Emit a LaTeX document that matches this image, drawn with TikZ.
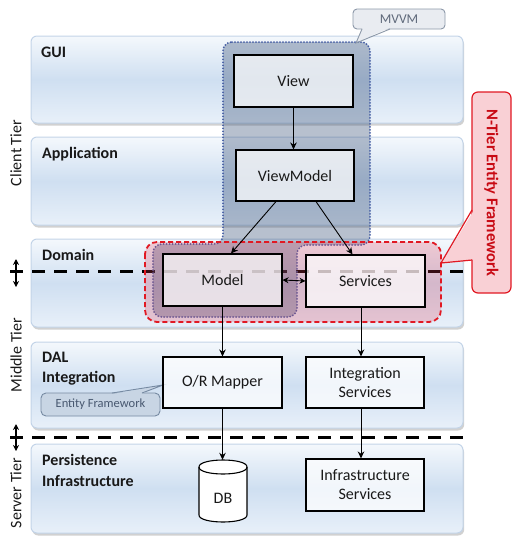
\documentclass[tikz,border=0pt]{standalone}
\usepackage{fontspec}
\setmainfont{Carlito}
\usetikzlibrary{arrows.meta,shadows,calc}
\definecolor{bandtop}{RGB}{244,248,252}
\definecolor{bandmid}{RGB}{207,223,241}
\definecolor{bandbot}{RGB}{232,240,249}
\definecolor{bandline}{RGB}{195,212,232}
\definecolor{mvvmfill}{RGB}{50,75,115}
\definecolor{mvvmline}{RGB}{70,95,165}
\definecolor{ntred}{RGB}{225,25,35}
\definecolor{ntfill}{RGB}{230,60,85}
\definecolor{ntcallfill}{RGB}{249,208,213}
\definecolor{nttext}{RGB}{200,10,20}
\definecolor{mvcallfill}{RGB}{233,236,241}
\definecolor{mvcallline}{RGB}{140,152,168}
\definecolor{mvtext}{RGB}{95,105,122}
\definecolor{efcallfill}{RGB}{200,213,228}
\definecolor{efcallline}{RGB}{118,138,162}
\definecolor{eftext}{RGB}{72,88,112}
\definecolor{txt}{RGB}{25,25,25}
\tikzset{
  band/.style={draw=bandline, line width=1pt, rounded corners=6pt,
    top color=bandtop, bottom color=bandbot, middle color=bandmid,
    drop shadow={shadow xshift=1.2pt, shadow yshift=-2.5pt, opacity=0.3, fill=black!60}},
  lbl/.style={font=\fontsize{16}{19}\selectfont\bfseries, anchor=base west, inner sep=0pt, text=txt},
  tier/.style={font=\fontsize{16}{19}\selectfont, rotate=90, inner sep=0pt, text=txt},
  box/.style={draw=black, line width=1.1pt, fill=white, fill opacity=0.72, text opacity=1,
    minimum width=119pt, minimum height=52pt, inner sep=2pt, align=center,
    font=\fontsize{16}{19}\selectfont, text=txt},
  arr/.style={-{Stealth[length=7pt,width=6.5pt]}, line width=0.9pt},
  darr/.style={{Stealth[length=6pt,width=6pt]}-{Stealth[length=6pt,width=6pt]}, line width=0.9pt},
  tierarr/.style={{Stealth[length=6pt,width=6pt]}-{Stealth[length=6pt,width=6pt]}, line width=1.6pt},
  tierline/.style={line width=3pt, dash pattern=on 13pt off 9pt},
  mvvm/.style={draw=mvvmline, line width=2pt, line cap=round, dash pattern=on 0pt off 3pt,
    fill=mvvmfill, fill opacity=0.35, rounded corners=9pt},
  ntregion/.style={draw=ntred, line width=1.8pt, dash pattern=on 5pt off 3pt,
    fill=ntfill, fill opacity=0.24, rounded corners=12pt},
}
\begin{document}
\begin{tikzpicture}[x=1pt,y=-1pt]
\useasboundingbox (0,0) rectangle (520,542);
% bands
\draw[band] (31,36) rectangle (463,123);
\draw[band] (31,137) rectangle (463,225);
\draw[band] (31,239) rectangle (463,327);
\draw[band] (31,342) rectangle (463,428);
\draw[band] (31,444) rectangle (463,533);
% tier separators
\coordinate (s1a) at (10,271); \coordinate (s1b) at (465,271);
\coordinate (s2a) at (10,437); \coordinate (s2b) at (465,437);
\draw[tierline] (s1a) -- (s1b);
\draw[tierline] (s2a) -- (s2b);
\coordinate (t1a) at (16,259); \coordinate (t1b) at (16,287);
\coordinate (t2a) at (16,424); \coordinate (t2b) at (16,451);
\draw[tierarr] (t1a) -- (t1b);
\draw[tierarr] (t2a) -- (t2b);
% tier labels
\node[tier] (client) at (16,153) {Client Tier};
\node[tier] (middle) at (16,355) {Middle Tier};
\node[tier] (server) at (16,493) {Server Tier};
% layer labels
\node[lbl] (gui) at (41,57) {GUI};
\node[lbl] (app) at (42,158) {Application};
\node[lbl] (dom) at (42,260) {Domain};
\node[lbl] (dal) at (42,362) {DAL};
\node[lbl] (integ) at (42,382) {Integration};
\node[lbl] (pers) at (42,465) {Persistence};
\node[lbl] (infra) at (42,486) {Infrastructure};
% MVVM region
\draw[mvvm] (223,42) -- (370,42) -- (370,245) -- (297,245) -- (297,317) -- (153,317) -- (153,244) -- (223,244) -- cycle;
% N-Tier EF region
\draw[ntregion] (145,242) rectangle (441,322);
% MVVM callout
\draw[draw=mvcallline, fill=mvcallfill, line width=0.9pt, rounded corners=4pt] (353,9) rectangle (445,29);
\fill[mvcallfill] (362.6,28) -- (389.4,28) -- (356.5,42) -- cycle;
\draw[mvcallline, line width=0.9pt] (362,29) -- (356,43) -- (390,29);
\node[font=\fontsize{13.5}{16}\selectfont, text=mvtext, inner sep=0pt] (mvvmtxt) at (399,19) {MVVM};
% N-Tier callout
\draw[draw=ntred, fill=ntcallfill, line width=1.2pt, rounded corners=6pt] (472,92) rectangle (511,293);
\fill[ntcallfill] (473.5,211) -- (473.5,259.5) -- (442,262.5) -- cycle;
\draw[ntred, line width=1.2pt] (472,210) -- (441,263) -- (472,260);
\node[font=\fontsize{16.5}{19}\selectfont\bfseries, text=nttext, rotate=-90, inner sep=0pt] (nttxt) at (491.5,193) {N-Tier Entity Framework};
% Entity Framework callout
\draw[draw=efcallline, fill=efcallfill, line width=0.9pt, rounded corners=5pt] (41,393) rectangle (160,416);
\fill[efcallfill] (112.8,394) -- (141.5,394) -- (162,385.5) -- cycle;
\draw[efcallline, line width=0.9pt] (112,393) -- (163,385) -- (142,393);
\node[font=\fontsize{12.5}{15}\selectfont, text=eftext, inner sep=0pt] (eftxt) at (100.5,404.5) {Entity Framework};
% boxes
\node[box] (view) at (293.5,81) {View};
\node[box, minimum width=118pt, minimum height=51pt] (vm) at (295,175.5) {ViewModel};
\node[box] (model) at (222.5,280) {Model};
\node[box] (svc) at (365.5,281) {Services};
\node[box, minimum height=51pt] (orm) at (222.5,382.5) {O/R Mapper};
\node[box, minimum width=118pt, minimum height=51pt] (isvc) at (365,382.5) {Integration\\Services};
\node[box, minimum width=118pt] (infs) at (365,485) {Infrastructure\\Services};
% DB cylinder
\node[minimum width=48pt, minimum height=62pt, inner sep=0pt] (db) at (223,491) {};
\filldraw[draw=black, fill=white, line width=1.1pt]
  (199,467) -- (199,515) .. controls (199,524.33) and (247,524.33) .. (247,515) -- (247,467)
  .. controls (247,457.67) and (199,457.67) .. (199,467) -- cycle;
\draw[line width=1.1pt] (199,467) .. controls (199,476.33) and (247,476.33) .. (247,467);
\node[font=\fontsize{16}{19}\selectfont, text=txt, inner sep=0pt] (dbtxt) at (223,498) {DB};
% arrows
\draw[arr] (view.south) -- (view.south |- vm.north);
\draw[arr] ($(vm.south)+(-19,0)$) -- ($(model.north)+(8.5,0)$);
\draw[arr] ($(vm.south)+(21,0)$) -- ($(svc.north)+(-13,0)$);
\draw[darr] (model.east) -- (svc.west);
\draw[arr] (model.south) -- (orm.north);
\draw[arr] ($(svc.south)+(-4.5,0)$) -- ($(isvc.north)+(-4,0)$);
\draw[arr] (orm.south) -- (orm.south |- db.north);
\draw[arr] ($(isvc.south)+(-4,0)$) -- ($(infs.north)+(-4,0)$);
\end{tikzpicture}
\end{document}
